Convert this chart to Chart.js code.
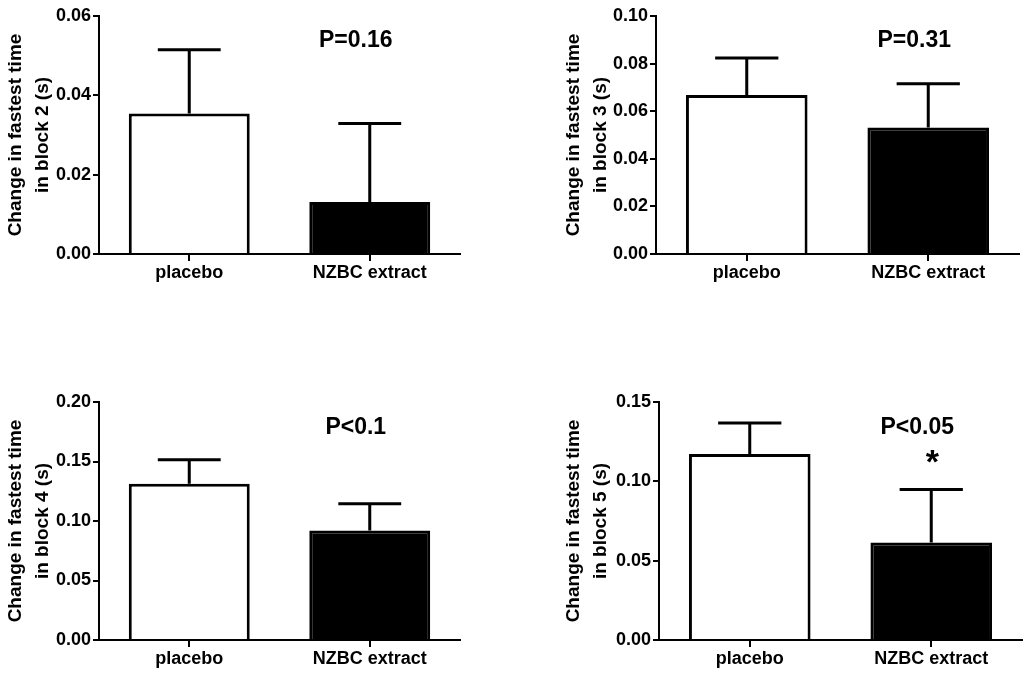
<!DOCTYPE html>
<html>
<head>
<meta charset="utf-8">
<script src="https://cdn.jsdelivr.net/npm/chart.js@4/dist/chart.umd.min.js"></script>
<style>
  html, body { margin: 0; padding: 0; background: #fff; }
  .panel { position: absolute; width: 512px; }
  .panel canvas { display: block; }
</style>
</head>
<body>
<div class="panel" style="left:0;top:0;height:290px"><canvas id="c2"></canvas></div>
<div class="panel" style="left:512px;top:0;height:290px"><canvas id="c3"></canvas></div>
<div class="panel" style="left:0;top:380px;height:293px"><canvas id="c4"></canvas></div>
<div class="panel" style="left:512px;top:380px;height:293px"><canvas id="c5"></canvas></div>
<script>
const categories = ['placebo', 'NZBC extract'];

// mean change in fastest time (s) and upper error (s)
const block2Means = [0.0354, 0.0131];
const block2Errors = [0.0161, 0.0198];
const block3Means = [0.0668, 0.0531];
const block3Errors = [0.0156, 0.0184];
const block4Means = [0.1312, 0.0920];
const block4Errors = [0.0203, 0.0226];
const block5Means = [0.1172, 0.0615];
const block5Errors = [0.0196, 0.0333];

const block2Ticks = [0.00, 0.02, 0.04, 0.06];
const block3Ticks = [0.00, 0.02, 0.04, 0.06, 0.08, 0.10];
const block4Ticks = [0.00, 0.05, 0.10, 0.15, 0.20];
const block5Ticks = [0.00, 0.05, 0.10, 0.15];

const pLabels = ['P=0.16', 'P=0.31', 'P<0.1', 'P<0.05'];

const FONT = 'Arial, "Liberation Sans", sans-serif';

const errorBars = {
    id: 'errorBars',
    afterDatasetsDraw(chart, args, opts) {
        const ctx = chart.ctx;
        const meta = chart.getDatasetMeta(0);
        const y = chart.scales.y;
        ctx.save();
        ctx.strokeStyle = '#000';
        ctx.lineWidth = 3;
        meta.data.forEach((bar, i) => {
            const v = chart.data.datasets[0].data[i];
            const top = y.getPixelForValue(v + opts.errors[i]);
            const half = bar.width * 0.26;
            ctx.beginPath();
            ctx.moveTo(bar.x, bar.y);
            ctx.lineTo(bar.x, top);
            ctx.moveTo(bar.x - half, top);
            ctx.lineTo(bar.x + half, top);
            ctx.stroke();
        });
        // p value and star
        const x = chart.scales.x;
        const cx = x.getPixelForValue(1);
        ctx.fillStyle = '#000';
        ctx.textAlign = 'center';
        ctx.textBaseline = 'middle';
        ctx.font = 'bold 23px ' + FONT;
        ctx.fillText(opts.label, cx - 14, chart.chartArea.top + opts.labelDy);
        if (opts.star) {
            ctx.font = 'bold 34px ' + FONT;
            ctx.fillText('*', cx + 1, chart.chartArea.top + 62);
        }
        ctx.restore();
    }
};

function makeChart(id, means, errors, ticks, block, label, leftPad, axisW, rightPad, topPad, xH, labelDy, star) {
    const max = ticks[ticks.length - 1];
    const step = ticks[1] - ticks[0];
    new Chart(document.getElementById(id), {
        type: 'bar',
        data: {
            labels: categories,
            datasets: [{
                data: means,
                backgroundColor: ['#ffffff', '#000000'],
                borderColor: '#000000',
                borderWidth: 3,
                borderSkipped: 'start',
                barPercentage: 0.67,
                categoryPercentage: 1.0
            }]
        },
        options: {
            responsive: true,
            maintainAspectRatio: false,
            animation: false,
            layout: { padding: { left: leftPad, right: rightPad, top: topPad, bottom: 0 } },
            plugins: {
                legend: { display: false },
                tooltip: { enabled: false },
                errorBars: { errors: errors, label: label, labelDy: labelDy, star: star }
            },
            scales: {
                x: {
                    offset: true,
                    grid: { display: true, drawOnChartArea: false, offset: false, color: '#000', lineWidth: 2, tickLength: 7 },
                    border: { display: true, color: '#000', width: 2 },
                    ticks: { color: '#000', font: { family: FONT, size: 18, weight: 'bold' }, padding: 1 },
                    afterFit: (s) => { s.height = xH; }
                },
                y: {
                    min: 0,
                    max: max,
                    afterBuildTicks: (s) => { s.ticks = ticks.map(v => ({ value: v })); },
                    grid: { display: true, drawOnChartArea: false, color: '#000', lineWidth: 2, tickLength: 6 },
                    border: { display: true, color: '#000', width: 2 },
                    ticks: {
                        stepSize: step,
                        color: '#000',
                        padding: 2,
                        font: { family: FONT, size: 18, weight: 'bold' },
                        callback: (v) => Number(v).toFixed(2)
                    },
                    title: {
                        display: true,
                        text: ['Change in fastest time', 'in block ' + block + ' (s)'],
                        color: '#000',
                        font: { family: FONT, size: 19, weight: 'bold', lineHeight: 1.42 },
                        padding: { top: 2, bottom: 0 }
                    },
                    afterFit: (s) => { s.width = axisW; }
                }
            }
        },
        plugins: [errorBars]
    });
}

makeChart('c2', block2Means, block2Errors, block2Ticks, 2, pLabels[0], 0, 99, 52, 16, 36, 25, false);
makeChart('c3', block3Means, block3Errors, block3Ticks, 3, pLabels[1], 46, 98, 5, 16, 36, 25, false);
makeChart('c4', block4Means, block4Errors, block4Ticks, 4, pLabels[2], 0, 99, 52, 22, 33, 26, false);
makeChart('c5', block5Means, block5Errors, block5Ticks, 5, pLabels[3], 46, 101, 2, 22, 33, 26, true);
</script>
</body>
</html>
